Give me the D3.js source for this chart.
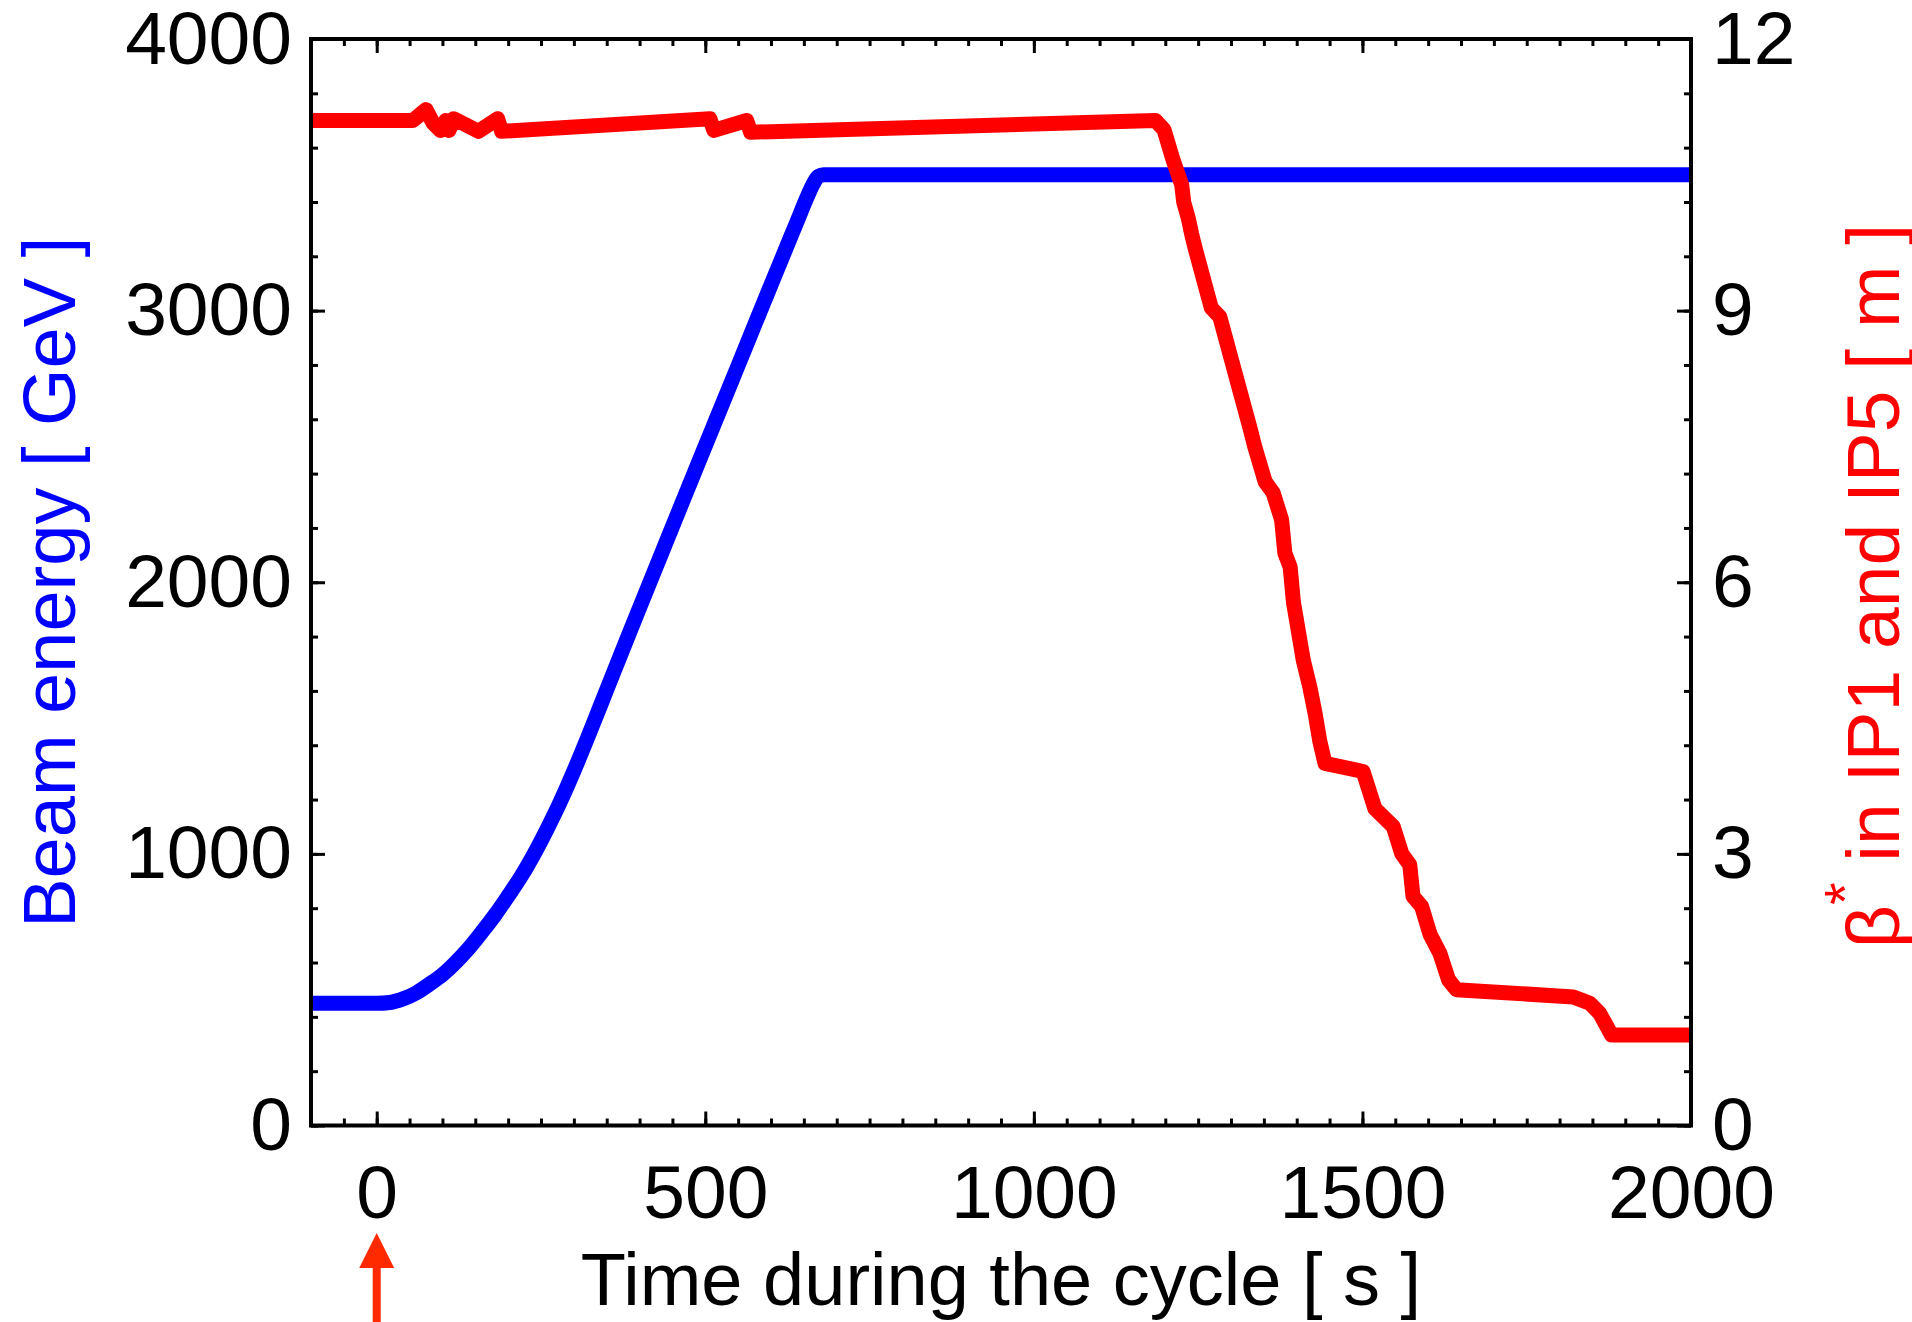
<!DOCTYPE html>
<html>
<head>
<meta charset="utf-8">
<script src="https://cdn.jsdelivr.net/npm/d3@7"></script>
<style>
  html, body { margin: 0; padding: 0; background: #fff; }
  svg { display: block; }
</style>
</head>
<body>
<svg id="chart" width="1912" height="1322"></svg>
<script>
// Beam energy during the cycle [GeV]
const beamTime   = [-100, 0, 20, 40, 60, 80, 100, 120, 140, 160, 180, 200, 220, 240, 260, 280, 300, 320, 340, 360, 380, 400, 450, 500, 550, 600, 640, 655, 665, 672, 680, 2000];
const beamEnergy = [450, 450, 453, 466, 488, 520, 555, 600, 652, 712, 775, 845, 918, 1002, 1095, 1195, 1305, 1422, 1543, 1665, 1786, 1906, 2205, 2502, 2798, 3095, 3330, 3418, 3470, 3494, 3500, 3500];

// beta* in IP1 and IP5 [m]
const betaTime = [-100, 55, 75, 86, 97, 105, 110, 117, 155, 184, 190, 507, 513, 563, 569, 1185, 1198, 1212, 1225, 1228, 1235, 1240, 1245, 1270, 1283, 1329, 1336, 1352, 1364, 1377, 1382, 1390, 1395, 1402, 1410, 1420, 1428, 1435, 1443, 1501, 1519, 1547, 1560, 1572, 1577, 1590, 1603, 1618, 1631, 1643, 1821, 1846, 1861, 1879, 2000];
const betaStar = [11.1, 11.1, 11.22, 11.07, 10.99, 11.1, 10.99, 11.12, 10.98, 11.12, 10.98, 11.12, 10.99, 11.1, 10.97, 11.1, 11.0, 10.66, 10.39, 10.2, 10.02, 9.85, 9.7, 9.03, 8.93, 7.7, 7.5, 7.11, 6.99, 6.69, 6.32, 6.17, 5.78, 5.48, 5.14, 4.84, 4.55, 4.25, 4.0, 3.91, 3.5, 3.3, 3.0, 2.88, 2.53, 2.42, 2.11, 1.9, 1.61, 1.5, 1.42, 1.35, 1.24, 1.0, 1.0];

// Tick values
const timeMajor   = [0, 500, 1000, 1500, 2000];
const timeMinor   = d3.range(-100, 2001, 50);
const energyMajor = [0, 1000, 2000, 3000, 4000];
const energyMinor = d3.range(0, 4001, 200);
const betaMajor   = [0, 3, 6, 9, 12];
const betaMinor   = d3.range(0, 12.01, 0.6);

const FONT = "'Liberation Sans', Arial, Helvetica, sans-serif";
const plotLeft = 311, plotRight = 1691, plotTop = 39, plotBottom = 1125.5;

const svg = d3.select("#chart");
svg.append("rect").attr("width", 1912).attr("height", 1322).attr("fill", "#fff");

const x  = d3.scaleLinear().domain([-100, 2000]).range([plotLeft, plotRight]);
const yL = d3.scaleLinear().domain([0, 4000]).range([plotBottom, plotTop]);
const yR = d3.scaleLinear().domain([0, 12]).range([plotBottom, plotTop]);

// Curves
const beamPts = beamTime.map((t, i) => [t, beamEnergy[i]]);
const betaPts = betaTime.map((t, i) => [t, betaStar[i]]);

svg.append("path")
  .attr("d", d3.line().curve(d3.curveMonotoneX).x(d => x(d[0])).y(d => yL(d[1]))(beamPts))
  .attr("fill", "none").attr("stroke", "#0000ff").attr("stroke-width", 15)
  .attr("stroke-linejoin", "round");

svg.append("path")
  .attr("d", d3.line().x(d => x(d[0])).y(d => yR(d[1]))(betaPts))
  .attr("fill", "none").attr("stroke", "#ff0000").attr("stroke-width", 15)
  .attr("stroke-linejoin", "round");

// Axes: ticks point inward, frame drawn separately
function styleAxis(g) {
  g.select(".domain").remove();
  g.selectAll(".tick line").attr("stroke", "#000").attr("stroke-width", 3);
  g.selectAll("text").attr("fill", "#000").style("font-family", FONT).style("font-size", "75px");
}

// bottom
svg.append("g").attr("transform", `translate(0,${plotBottom})`)
  .call(d3.axisBottom(x).tickValues(timeMinor).tickSize(-7).tickFormat(""))
  .call(styleAxis);
svg.append("g").attr("transform", `translate(0,${plotBottom})`)
  .call(d3.axisBottom(x).tickValues(timeMajor).tickSize(-14).tickPadding(39).tickFormat(d3.format("d")))
  .call(styleAxis);
// top
svg.append("g").attr("transform", `translate(0,${plotTop})`)
  .call(d3.axisTop(x).tickValues(timeMinor).tickSize(-7).tickFormat(""))
  .call(styleAxis);
svg.append("g").attr("transform", `translate(0,${plotTop})`)
  .call(d3.axisTop(x).tickValues(timeMajor).tickSize(-14).tickFormat(""))
  .call(styleAxis);
// left
svg.append("g").attr("transform", `translate(${plotLeft},0)`)
  .call(d3.axisLeft(yL).tickValues(energyMinor).tickSize(-7).tickFormat(""))
  .call(styleAxis);
svg.append("g").attr("transform", `translate(${plotLeft},0)`)
  .call(d3.axisLeft(yL).tickValues(energyMajor).tickSize(-14).tickPadding(19).tickFormat(d3.format("d")))
  .call(styleAxis);
// right
svg.append("g").attr("transform", `translate(${plotRight},0)`)
  .call(d3.axisRight(yR).tickValues(betaMinor).tickSize(-7).tickFormat(""))
  .call(styleAxis);
svg.append("g").attr("transform", `translate(${plotRight},0)`)
  .call(d3.axisRight(yR).tickValues(betaMajor).tickSize(-14).tickPadding(21).tickFormat(d3.format("d")))
  .call(styleAxis);

// Frame
svg.append("rect")
  .attr("x", plotLeft).attr("y", plotTop)
  .attr("width", plotRight - plotLeft).attr("height", plotBottom - plotTop)
  .attr("fill", "none").attr("stroke", "#000").attr("stroke-width", 4);

// Axis titles
svg.append("text")
  .attr("x", (plotLeft + plotRight) / 2).attr("y", 1305)
  .attr("text-anchor", "middle")
  .style("font-family", FONT).style("font-size", "74px").attr("fill", "#000")
  .text("Time during the cycle [ s ]");

svg.append("text")
  .attr("transform", `translate(75,${(plotTop + plotBottom) / 2}) rotate(-90)`)
  .attr("text-anchor", "middle")
  .style("font-family", FONT).style("font-size", "74px").attr("fill", "#0000ff")
  .text("Beam energy [ GeV ]");

const rt = svg.append("text")
  .attr("transform", `translate(1899,586) rotate(-90)`)
  .attr("text-anchor", "middle")
  .style("font-family", FONT).style("font-size", "75px").attr("fill", "#ff0000");
rt.append("tspan").text("β");
rt.append("tspan").attr("dy", -34).style("font-size", "58px").text("*");
rt.append("tspan").attr("dy", 34).text(" in IP1 and IP5 [ m ]");

// Start-of-ramp marker under t = 0
const ax = x(0);
svg.append("path")
  .attr("d", `M${ax},1233 L${ax + 17.5},1268 L${ax + 4},1268 L${ax + 4},1322 L${ax - 4},1322 L${ax - 4},1268 L${ax - 17.5},1268 Z`)
  .attr("fill", "#ff2a00");
</script>
</body>
</html>
